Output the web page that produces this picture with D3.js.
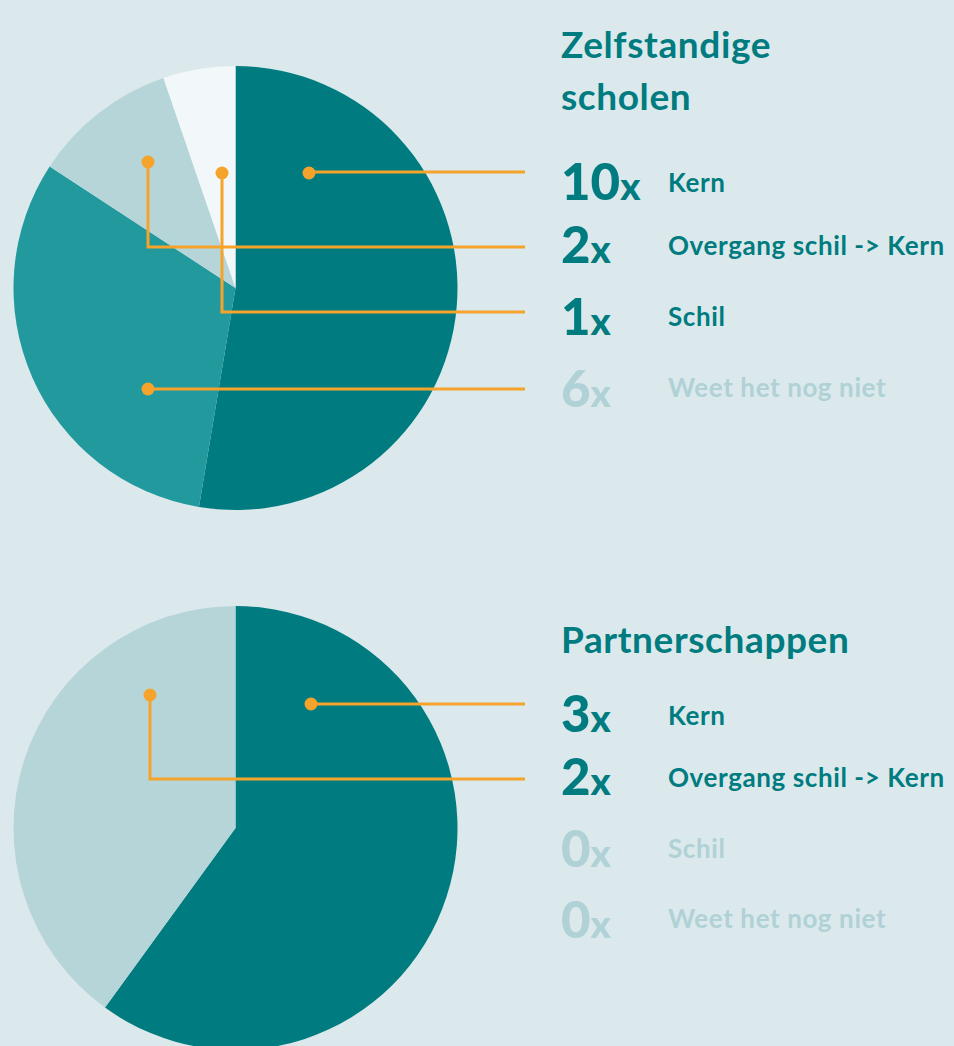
<!DOCTYPE html>
<html>
<head>
<meta charset="utf-8">
<script src="https://cdn.jsdelivr.net/npm/d3@7"></script>
<style>
  body { margin: 0; background: #dbe9ec; }
  svg { display: block; font-family: Lato, "Open Sans", sans-serif; font-weight: 700; }
</style>
</head>
<body>
<div id="chart"></div>
<script>
var canvasWidth = 954;
var canvasHeight = 1046;

/*Data*/
var categories = ["Kern", "Overgang schil -> Kern", "Schil", "Weet het nog niet"];
var pieOrder = ["Kern", "Weet het nog niet", "Overgang schil -> Kern", "Schil"];
var zelfstandigValues = [10, 2, 1, 6];
var partnerValues = [3, 2, 0, 0];
var titles = [["Zelfstandige", "scholen"], ["Partnerschappen"]];

var sliceColor = d3.scaleOrdinal()
    .domain(categories)
    .range(["#007c80", "#b6d5d8", "#f2f8f9", "#22999d"]);
var darkText = "#007c80";
var mutedText = "#b0d1d5";
var leaderColor = "#f5a32a";

/*Layout per chart*/
var charts = [
  {
    values: zelfstandigValues, title: titles[0], cx: 235.5, cy: 288,
    titleY: [58, 110],
    labelY: [192, 255, 326, 397], numberY: [200, 263, 335, 407],
    lineY: [172, 247, 312, 389],
    dots: [[309, 173], [148, 162], [222, 173], [148, 389]]
  },
  {
    values: partnerValues, title: titles[1], cx: 235.5, cy: 828,
    titleY: [653],
    labelY: [725, 787, 858, 928], numberY: [732, 795, 867, 938],
    lineY: [704, 779, null, null],
    dots: [[311, 704], [150, 695], null, null]
  }
];
var radius = 222;
var lineEndX = 525;

var svg = d3.select("#chart").append("svg")
    .attr("width", canvasWidth)
    .attr("height", canvasHeight);

svg.append("rect")
    .attr("width", canvasWidth)
    .attr("height", canvasHeight)
    .attr("fill", "#dbe9ec");

var pie = d3.pie()
    .sort(null)
    .value(function (d) { return d.value; });
var arc = d3.arc().innerRadius(0).outerRadius(radius);

charts.forEach(function (c) {
  var rows = categories.map(function (cat, i) { return {cat: cat, value: c.values[i], i: i}; });
  var pieData = pieOrder.map(function (cat) { return rows[categories.indexOf(cat)]; });

  var g = svg.append("g").attr("transform", "translate(" + c.cx + "," + c.cy + ")");
  g.selectAll("path")
      .data(pie(pieData).filter(function (d) { return d.data.value > 0; }))
      .join("path")
      .attr("d", arc)
      .attr("fill", function (d) { return sliceColor(d.data.cat); });

  /*Title*/
  svg.append("text")
      .attr("x", 561)
      .attr("fill", darkText)
      .style("font-size", "37px")
      .style("letter-spacing", "0.6px")
      .selectAll("tspan")
      .data(c.title)
      .join("tspan")
      .attr("x", 561)
      .attr("y", function (d, i) { return c.titleY[i]; })
      .text(function (d) { return d; });

  /*Legend rows*/
  rows.forEach(function (r) {
    var muted = r.value === 0 || r.cat === "Weet het nog niet";
    var col = muted ? mutedText : darkText;
    var num = svg.append("text")
        .attr("x", 561)
        .attr("y", c.numberY[r.i])
        .attr("fill", col)
        .style("font-weight", 900);
    num.append("tspan").style("font-size", "51px").text(r.value);
    num.append("tspan").style("font-size", "38px").text("x");

    svg.append("text")
        .attr("x", 668)
        .attr("y", c.labelY[r.i])
        .attr("fill", col)
        .style("font-size", "26px")
        .style("letter-spacing", "0.6px")
        .text(r.cat);

    /*Leader lines*/
    var dot = c.dots[r.i];
    if (dot && r.value > 0) {
      var ly = c.lineY[r.i];
      svg.append("path")
          .attr("d", d3.line()([[dot[0], dot[1]], [dot[0], ly], [lineEndX, ly]]))
          .attr("fill", "none")
          .attr("stroke", leaderColor)
          .attr("stroke-width", 3);
      svg.append("circle")
          .attr("cx", dot[0])
          .attr("cy", dot[1])
          .attr("r", 6.5)
          .attr("fill", leaderColor);
    }
  });
});
</script>
</body>
</html>
